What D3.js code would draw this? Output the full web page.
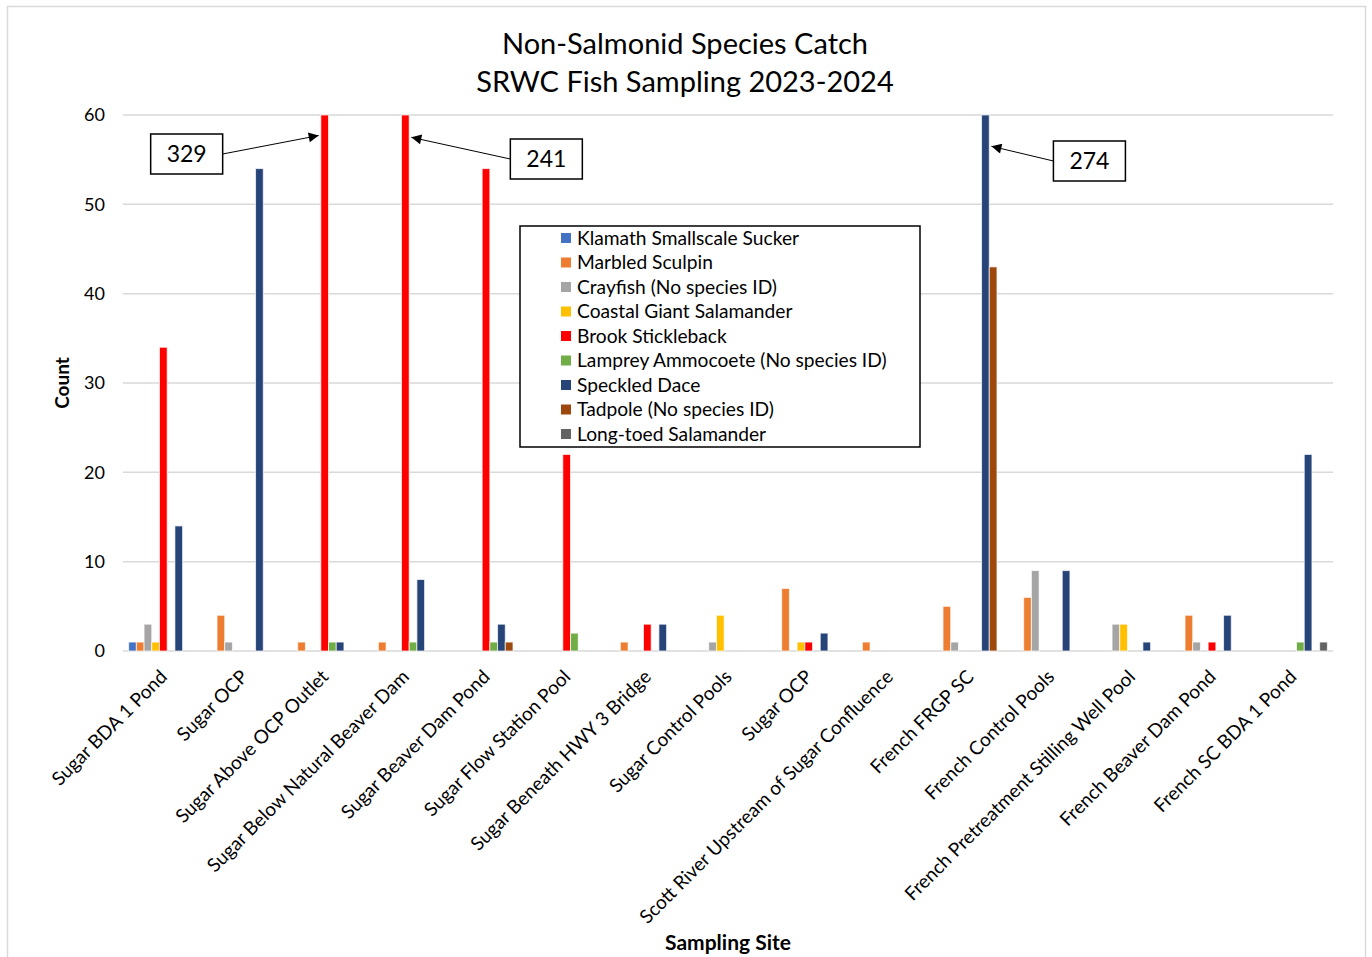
<!DOCTYPE html>
<html>
<head>
<meta charset="utf-8">
<script src="https://cdn.jsdelivr.net/npm/d3@7"></script>
<style>
  body { margin: 0; background: #fff; }
  svg text { font-family: Lato, "Open Sans", sans-serif; fill: #000; }
</style>
</head>
<body>
<svg class="bar-chart"></svg>
<script>
var sites = ["Sugar BDA 1 Pond", "Sugar OCP", "Sugar Above OCP Outlet", "Sugar Below Natural Beaver Dam",
    "Sugar Beaver Dam Pond", "Sugar Flow Station Pool", "Sugar Beneath HWY 3 Bridge", "Sugar Control Pools",
    "Sugar OCP", "Scott River Upstream of Sugar Confluence", "French FRGP SC", "French Control Pools",
    "French Pretreatment Stilling Well Pool", "French Beaver Dam Pond", "French SC BDA 1 Pond"];

var species = ["Klamath Smallscale Sucker", "Marbled Sculpin", "Crayfish (No species ID)",
    "Coastal Giant Salamander", "Brook Stickleback", "Lamprey Ammocoete (No species ID)",
    "Speckled Dace", "Tadpole (No species ID)", "Long-toed Salamander"];

var colors = ["#4472C4", "#ED7D31", "#A5A5A5", "#FFC000", "#FF0000", "#70AD47", "#264478", "#9E480E", "#636363"];

// one array per species, one value per site
var klamath   = [1, 0, 0, 0, 0, 0, 0, 0, 0, 0, 0, 0, 0, 0, 0];
var marbled   = [1, 4, 1, 1, 0, 0, 1, 0, 7, 1, 5, 6, 0, 4, 0];
var crayfish  = [3, 1, 0, 0, 0, 0, 0, 1, 0, 0, 1, 9, 3, 1, 0];
var coastal   = [1, 0, 0, 0, 0, 0, 0, 4, 1, 0, 0, 0, 3, 0, 0];
var brook     = [34, 0, 329, 241, 54, 22, 3, 0, 1, 0, 0, 0, 0, 1, 0];
var lamprey   = [0, 0, 1, 1, 1, 2, 0, 0, 0, 0, 0, 0, 0, 0, 1];
var speckled  = [14, 54, 1, 8, 3, 0, 3, 0, 2, 0, 274, 9, 1, 4, 22];
var tadpole   = [0, 0, 0, 0, 1, 0, 0, 0, 0, 0, 43, 0, 0, 0, 0];
var longtoed  = [0, 0, 0, 0, 0, 0, 0, 0, 0, 0, 0, 0, 0, 0, 1];
var seriesValues = [klamath, marbled, crayfish, coastal, brook, lamprey, speckled, tadpole, longtoed];

var yTicks = [0, 10, 20, 30, 40, 50, 60];

// callouts for bars running past the axis max
var callouts = [
    {site: 2, series: 4, label: "329"},
    {site: 3, series: 4, label: "241"},
    {site: 10, series: 6, label: "274"}
];

var width = 1372, height = 957;
var plot = {left: 123, right: 1333, top: 115, bottom: 651};

var svg = d3.select(".bar-chart")
    .attr("width", width)
    .attr("height", height);

// outer chart border
svg.append("rect")
    .attr("x", 7.5).attr("y", 6.5)
    .attr("width", 1358).attr("height", 960)
    .attr("fill", "none")
    .attr("stroke", "#d9d9d9")
    .attr("stroke-width", 1.5);

var x0 = d3.scaleBand()
    .domain(d3.range(sites.length))
    .range([plot.left, plot.right])
    .paddingInner(0.14)
    .paddingOuter(0.07);

var x1 = d3.scaleBand()
    .domain(d3.range(species.length))
    .range([0, x0.bandwidth()]);

var y = d3.scaleLinear()
    .domain([0, 60])
    .range([plot.bottom, plot.top])
    .clamp(true);

// gridlines
svg.append("g")
    .selectAll("line")
    .data(yTicks)
    .enter().append("line")
    .attr("x1", plot.left).attr("x2", plot.right)
    .attr("y1", function(d) { return y(d); })
    .attr("y2", function(d) { return y(d); })
    .attr("stroke", "#d9d9d9")
    .attr("stroke-width", 1.5);

var yAxis = d3.axisLeft(y).tickValues(yTicks).tickSize(0).tickPadding(18);
svg.append("g")
    .attr("transform", "translate(" + plot.left + ",0)")
    .call(yAxis)
    .call(function(g) {
        g.select(".domain").remove();
        g.selectAll(".tick text").attr("font-size", 18).attr("font-family", "Lato, sans-serif").attr("fill", "#000");
    });

// bars
var barData = [];
seriesValues.forEach(function(vals, s) {
    vals.forEach(function(v, i) {
        if (v > 0) barData.push({site: i, series: s, value: v});
    });
});

svg.append("g")
    .selectAll("rect")
    .data(barData)
    .enter().append("rect")
    .attr("x", function(d) { return x0(d.site) + x1(d.series); })
    .attr("width", x1.bandwidth())
    .attr("y", function(d) { return y(d.value); })
    .attr("height", function(d) { return y(0) - y(d.value); })
    .attr("fill", function(d) { return colors[d.series]; })
    .attr("stroke", "#fff")
    .attr("stroke-opacity", 0.7)
    .attr("stroke-width", 1);

// x tick labels, rotated
svg.append("g")
    .selectAll("text")
    .data(sites)
    .enter().append("text")
    .attr("transform", function(d, i) {
        var cx = x0(i) + x0.bandwidth() / 2 + 5;
        return "translate(" + cx + "," + (plot.bottom + 27) + ") rotate(-45)";
    })
    .attr("text-anchor", "end")
    .attr("font-size", 19)
    .text(function(d) { return d; });

// title
var title = svg.append("text")
    .attr("x", 685)
    .attr("text-anchor", "middle")
    .attr("font-size", 29);
title.append("tspan").attr("x", 685).attr("y", 54).text("Non-Salmonid Species Catch");
title.append("tspan").attr("x", 685).attr("y", 92).text("SRWC Fish Sampling 2023-2024");

// axis titles
svg.append("text")
    .attr("transform", "translate(69," + ((plot.top + plot.bottom) / 2) + ") rotate(-90)")
    .attr("text-anchor", "middle")
    .attr("font-size", 19)
    .attr("font-weight", "bold")
    .text("Count");

svg.append("text")
    .attr("x", 728).attr("y", 950)
    .attr("text-anchor", "middle")
    .attr("font-size", 21)
    .attr("font-weight", "bold")
    .text("Sampling Site");

// legend
var legend = svg.append("g").attr("transform", "translate(520,226)");
legend.append("rect")
    .attr("width", 400).attr("height", 221)
    .attr("fill", "#fff")
    .attr("stroke", "#000")
    .attr("stroke-width", 1.5);
var item = legend.selectAll(".item")
    .data(species)
    .enter().append("g")
    .attr("transform", function(d, i) { return "translate(41," + (12 + i * 24.5) + ")"; });
item.append("rect")
    .attr("x", 0).attr("y", -5)
    .attr("width", 10).attr("height", 10)
    .attr("fill", function(d, i) { return colors[i]; });
item.append("text")
    .attr("x", 16).attr("dy", "0.35em")
    .attr("font-size", 19.2)
    .text(function(d) { return d; });

// callouts with arrows
svg.append("defs").append("marker")
    .attr("id", "arrow")
    .attr("viewBox", "0 0 10 10")
    .attr("refX", 10).attr("refY", 5)
    .attr("markerWidth", 14).attr("markerHeight", 10)
    .attr("markerUnits", "userSpaceOnUse")
    .attr("orient", "auto")
    .append("path")
    .attr("d", "M0,0 L10,5 L0,10 Z")
    .attr("fill", "#000");

var boxOffsets = [{dx: -174, dy: 39, side: 1}, {dx: 105, dy: 44, side: -1}, {dx: 68, dy: 46, side: -1}];
var arrowY = [57.7, 57.5, 56.5];

callouts.forEach(function(c, k) {
    var bx = x0(c.site) + x1(c.series) + x1.bandwidth() / 2;
    var tipX = bx - boxOffsets[k].side * 6;
    var tipY = y(arrowY[k]);
    var o = boxOffsets[k];
    var boxW = 72, boxH = 40;
    var boxX = bx + o.dx;
    var boxY = plot.top + o.dy - boxH / 2;
    var startX = o.side === 1 ? boxX + boxW : boxX;
    svg.append("line")
        .attr("x1", startX).attr("y1", boxY + boxH / 2)
        .attr("x2", tipX).attr("y2", tipY)
        .attr("stroke", "#000")
        .attr("stroke-width", 1)
        .attr("marker-end", "url(#arrow)");
    svg.append("rect")
        .attr("x", boxX).attr("y", boxY)
        .attr("width", boxW).attr("height", boxH)
        .attr("fill", "#fff")
        .attr("stroke", "#000")
        .attr("stroke-width", 1.5);
    svg.append("text")
        .attr("x", boxX + boxW / 2).attr("y", boxY + boxH / 2)
        .attr("dy", "0.35em")
        .attr("text-anchor", "middle")
        .attr("font-size", 23)
        .text(c.label);
});
</script>
</body>
</html>
